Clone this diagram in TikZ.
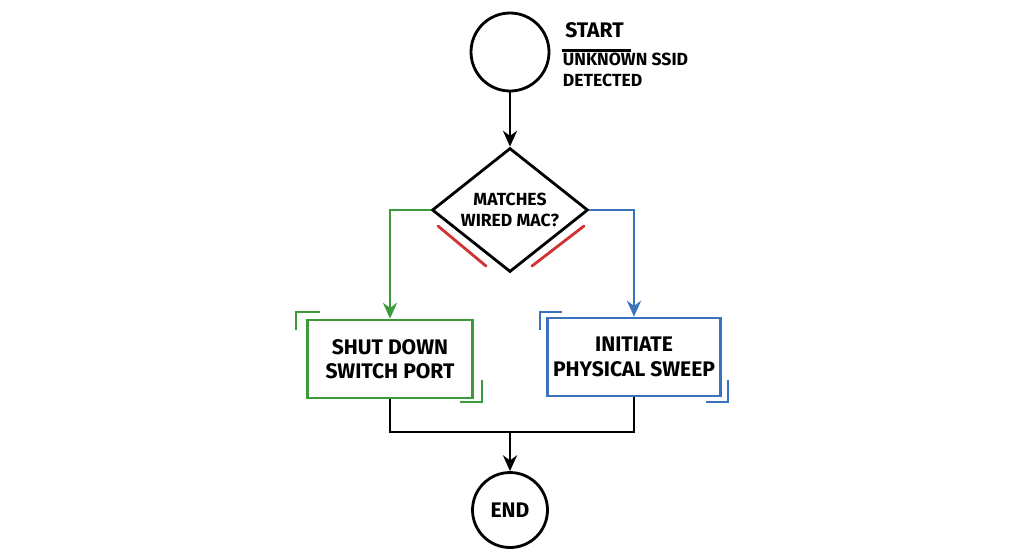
\documentclass[tikz,border=0pt]{standalone}
\usepackage{fontspec}
\setmainfont{Fira Sans}
\usetikzlibrary{positioning,shapes.geometric,arrows.meta}
\definecolor{sweepgreen}{HTML}{3C9A3C}
\definecolor{sweepblue}{HTML}{3A72BE}
\definecolor{markred}{HTML}{D23232}
\begin{document}
\begin{tikzpicture}
		[x=0.02cm,y=-0.02cm,
		line width=1.6pt,
		>={Stealth[length=9pt,width=8pt]},
		endpoint/.style={
			circle,
			draw,
			minimum size=1.56cm,
			font=\bfseries\large
		},
		question/.style={diamond,draw,aspect=1.26,minimum width=3.12cm,minimum height=2.48cm,inner sep=0pt,align=center,font=\bfseries},
		action/.style={rectangle,draw,minimum width=3.3cm,minimum height=1.56cm,align=center,font=\bfseries\large},
		accent/.style={line width=1.6pt}]
		\useasboundingbox (0,0) rectangle (1024,559);
		\node[endpoint] (start) at (510,52) {};
		\node[anchor=west,font=\bfseries\large] (starttitle) at (558,30) {START};
		\draw ([xshift=2pt,yshift=-3pt]starttitle.south west) -- ([yshift=-3pt]starttitle.south east);
		\node[anchor=north west,align=left,font=\bfseries,inner sep=2pt] (startnote) at (558,48) {UNKNOWN SSID\\DETECTED};
		\node[question] (match) at (510,210) {MATCHES\\WIRED MAC?};
		\node[action,draw=sweepgreen] (shutdown) at (390,359) {SHUT DOWN\\SWITCH PORT};
		\node[action,draw=sweepblue] (sweep) at (634,357) {INITIATE\\PHYSICAL SWEEP};
		\node[endpoint,minimum size=1.5cm] (stop) at (510,510) {END};
		\coordinate (join) at (510,432);
		% connectors
		\draw[->] (start) -- (match);
		\draw[->,sweepgreen] (match.west) -| (shutdown.north);
		\draw[->,sweepblue] (match.east) -| (sweep.north);
		\draw (shutdown.south) |- (join) -| (sweep.south);
		\draw[->] (join) -- (stop);
		% red marks under the diamond
		\draw[markred,line cap=round] (438,226) -- (486,266);
		\draw[markred,line cap=round] (584,226) -- (532,266);
		% corner accents
		\draw[accent,sweepgreen] (296,330) -- (296,312) -- (320,312);
		\draw[accent,sweepgreen] (482,380) -- (482,402) -- (460,402);
		\draw[accent,sweepblue] (540,330) -- (540,312) -- (562,312);
		\draw[accent,sweepblue] (728,380) -- (728,402) -- (706,402);
\end{tikzpicture}
\end{document}
